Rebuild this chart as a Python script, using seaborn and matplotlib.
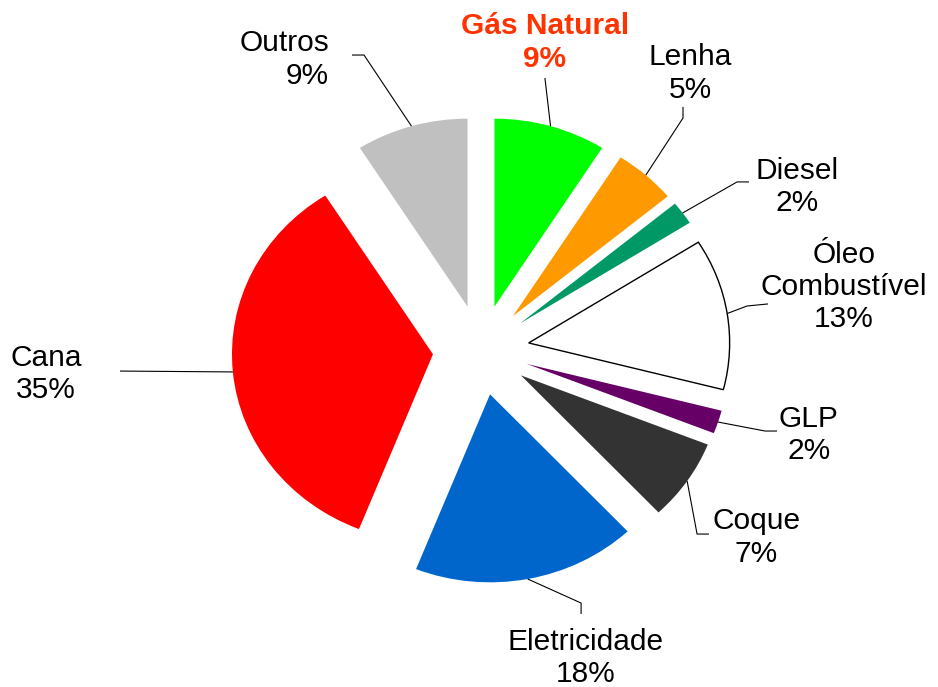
import numpy as np
import matplotlib
matplotlib.use("Agg")
import matplotlib.pyplot as plt
import seaborn as sns

# Data (clockwise from 12 o'clock)
labels = ['Gás Natural', 'Lenha', 'Diesel', 'Óleo\nCombustível', 'GLP',
          'Coque', 'Eletricidade', 'Cana', 'Outros']
shares = [9, 5, 2, 13, 2, 7, 18, 35, 9]
colors = ['#00FF00', '#FF9900', '#009966', '#FFFFFF', '#660066',
          '#333333', '#0066CC', '#FF0000', '#C0C0C0']

# Layout: label centres, leader-line ends and knees (data units)
label_pos = [(0.318, 1.636), (1.040, 1.471), (1.572, 0.867), (1.805, 0.335),
             (1.630, -0.452), (1.370, -0.997), (0.522, -1.638),
             (-2.164, -0.128), (-0.756, 1.545)]
line_end = [(0.318, 1.447), (1.005, 1.293), (1.333, 0.894), (1.428, 0.245),
            (1.473, -0.431), (1.134, -0.979), (0.498, -1.404),
            (-1.796, -0.112), (-0.642, 1.569)]
line_knee = [None, (1.005, 1.234), (1.274, 0.894), (1.323, 0.234),
             (1.413, -0.431), (1.075, -0.979), (0.498, -1.346),
             None, (-0.582, 1.569)]

sns.set_theme(style='white')
plt.rcParams['font.family'] = ['Liberation Sans', 'DejaVu Sans']

fig = plt.figure(figsize=(9.38, 6.87), dpi=100)
ax = fig.add_axes([0, 0, 1, 1])

wedges, _ = ax.pie(shares, colors=colors, startangle=90, counterclock=False,
                   explode=[0.24] * len(shares),
                   wedgeprops=dict(linewidth=0))
# white slice gets a thin outline
wedges[3].set_edgecolor('black')
wedges[3].set_linewidth(1.0)

for i, w in enumerate(wedges):
    mid = np.deg2rad((w.theta1 + w.theta2) / 2)
    ex = w.center[0] + w.r * np.cos(mid)
    ey = w.center[1] + w.r * np.sin(mid)
    pts = [(ex, ey)]
    if line_knee[i] is not None:
        pts.append(line_knee[i])
    pts.append(line_end[i])
    xs, ys = zip(*pts)
    ax.plot(xs, ys, color='black', lw=0.8, solid_capstyle='butt')

    txt = labels[i] + '\n' + f'{shares[i]}%'
    kw = dict(va='center', fontsize=21.5, linespacing=1.2)
    if labels[i] == 'Gás Natural':
        ax.text(*label_pos[i], txt, ha='center', color='#FF3300',
                fontweight='bold', **kw)
    elif labels[i] == 'Outros':
        ax.text(*label_pos[i], txt, ha='right', color='black',
                multialignment='right', **kw)
    else:
        ax.text(*label_pos[i], txt, ha='center', color='black', **kw)

# pixel scale: 201 px per unit in x, 188 px per unit in y
ax.set_aspect('auto')
ax.set_xlim(-481 / 201, (938 - 481) / 201)
ax.set_ylim(-337 / 188, 350 / 188)
ax.axis('off')

fig.savefig('out.png', dpi=100, facecolor='white')
